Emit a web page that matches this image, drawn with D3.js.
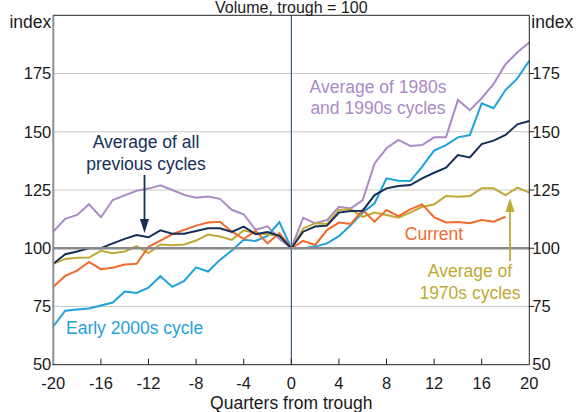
<!DOCTYPE html>
<html><head><meta charset="utf-8">
<script src="https://cdn.jsdelivr.net/npm/d3@7"></script>
<style>
body{margin:0;background:#fff;}
text{font-family:"Liberation Sans",Arial,sans-serif;}
</style></head>
<body><svg id="c" width="577" height="412"></svg>
<script>
const quarters = d3.range(-20, 21);
const xTicks = [-20,-16,-12,-8,-4,0,4,8,12,16,20];
const yTicks = [50,75,100,125,150,175];

const avg8090 = [107.2,112.6,114.3,118.9,113.3,120.7,122.7,124.7,125.6,127.0,125.0,122.9,121.7,122.2,121.2,116.5,114.6,107.9,109.4,104.0,100,
  113.0,110.7,112.1,117.8,117.1,120.7,136.4,142.9,146.5,143.9,144.3,147.6,147.6,163.6,159.3,164.4,170.5,179.0,184.1,188.3];
const avgAll = [93.3,97.4,98.6,100,100,102.1,104,105.7,104.7,107.7,106.2,106.2,107.4,108.6,108.6,107,109.3,106,107,105.3,100,
  107.1,109.3,109.7,115.3,116,116.1,122.8,125.7,126.7,127.1,130,132.4,134.6,140,139,144.7,146.2,148.6,153.2,154.6];
const current = [83.5,88.1,90.4,94.1,91,91.6,93,93.3,100.6,103.3,106,107.9,109.7,111,111.4,107.2,103.9,107.5,102.1,106.5,100,
  103.2,101.4,107.8,111,110.4,116.4,111.4,116.4,113.8,116.7,118.8,113.3,111.1,111.3,110.7,112.1,111.4,113.5,null,null];
const early2000s = [66.4,73.2,73.7,74.1,75.4,76.7,81.4,80.8,83.1,88,83.4,86,91.8,90,95,99,103.6,103.1,105.3,111.2,100,
  100,100.7,102.1,105.2,110,115.3,119.3,130,129,128.9,135,141.9,144.3,147.6,148.6,162.2,160.1,167.9,172.9,180.5];
const avg1970s = [93.3,95.4,95.9,96,98.9,97.9,98.6,100.9,97.9,101.6,101.3,101.6,103.3,105.9,105,103.6,107.7,106.4,106,105.3,100,
  108.5,110.7,110.4,116.4,116.7,113.5,115.3,114.3,113.1,115.3,117.8,118.8,122.4,122.1,122.4,125.7,125.7,122.8,126,123.9];

const series = [
  {name:"avg8090", values:avg8090, color:"#a98bc6"},
  {name:"early2000s", values:early2000s, color:"#1ea2dc"},
  {name:"avg1970s", values:avg1970s, color:"#bfa834"},
  {name:"current", values:current, color:"#f26a2e"},
  {name:"avgAll", values:avgAll, color:"#152f5a"}
];

const svg = d3.select("#c");
const L=53.3, R=529.3, T=15.3, B=364.7;
const x = d3.scaleLinear().domain([-20,20]).range([L,R]);
const y = d3.scaleLinear().domain([50,200]).range([B,T]);

// gridlines
svg.append("g").selectAll("line").data([75,125,150,175]).join("line")
  .attr("x1",L).attr("x2",R).attr("y1",d=>y(d)).attr("y2",d=>y(d))
  .attr("stroke","#c9c9c9").attr("stroke-width",1);

// zero vertical line
svg.append("line").attr("x1",x(0)).attr("x2",x(0)).attr("y1",T).attr("y2",B)
  .attr("stroke","#1f3a64").attr("stroke-width",1);

// x ticks (inside)
svg.append("g").selectAll("line").data(xTicks.slice(1,-1)).join("line")
  .attr("x1",d=>x(d)).attr("x2",d=>x(d)).attr("y1",B).attr("y2",B-6)
  .attr("stroke","#222").attr("stroke-width",1);

// right ticks (outside)
svg.append("g").selectAll("line").data([75,100,125,150,175]).join("line")
  .attr("x1",R).attr("x2",R+5).attr("y1",d=>y(d)).attr("y2",d=>y(d))
  .attr("stroke","#222").attr("stroke-width",1);

// lines
const line = d3.line().defined(d=>d.v!=null).x(d=>x(d.q)).y(d=>y(d.v));
series.forEach(s=>{
  svg.append("path").datum(quarters.map((q,i)=>({q,v:s.values[i]})))
    .attr("d",line).attr("fill","none").attr("stroke",s.color)
    .attr("stroke-width",2).attr("stroke-linejoin","miter");
});

// 100 line
svg.append("line").attr("x1",L).attr("x2",R).attr("y1",y(100)).attr("y2",y(100))
  .attr("stroke","#8a8a8a").attr("stroke-width",2.5);

// frame
svg.append("line").attr("x1",L).attr("x2",L).attr("y1",T).attr("y2",B).attr("stroke","#8f8f8f").attr("stroke-width",2);
svg.append("line").attr("x1",L).attr("x2",R).attr("y1",T).attr("y2",T).attr("stroke","#222").attr("stroke-width",1);
svg.append("line").attr("x1",R).attr("x2",R).attr("y1",T).attr("y2",B).attr("stroke","#222").attr("stroke-width",1);
svg.append("line").attr("x1",L-1).attr("x2",R).attr("y1",B).attr("y2",B).attr("stroke","#222").attr("stroke-width",1);

// tick labels
const fs = 16.5, fa = 17.5;
svg.append("g").selectAll("text").data(yTicks).join("text")
  .attr("x",L-2).attr("y",d=>y(d)).attr("dy","0.35em").attr("text-anchor","end")
  .attr("font-size",fs).attr("fill","#1a1a1a").text(d=>d);
svg.append("g").selectAll("text").data(yTicks).join("text")
  .attr("x",R+3).attr("y",d=>y(d)).attr("dy","0.35em").attr("text-anchor","start")
  .attr("font-size",fs).attr("fill","#1a1a1a").text(d=>d);
svg.append("g").selectAll("text").data(xTicks).join("text")
  .attr("x",d=>x(d)).attr("y",B+19).attr("dy","0.35em").attr("text-anchor","middle")
  .attr("font-size",fs).attr("fill","#1a1a1a").text(d=>d);

svg.append("text").attr("x",L-2).attr("y",28).attr("text-anchor","end").attr("font-size",fa).attr("fill","#1a1a1a").text("index");
svg.append("text").attr("x",R+2).attr("y",28).attr("text-anchor","start").attr("font-size",fa).attr("fill","#1a1a1a").text("index");
svg.append("text").attr("x",x(0)).attr("y",12.5).attr("text-anchor","middle").attr("font-size",16).attr("fill","#1a1a1a").text("Volume, trough = 100");
svg.append("text").attr("x",x(0)).attr("y",409).attr("text-anchor","middle").attr("font-size",fa).attr("fill","#1a1a1a").text("Quarters from trough");

// annotations
function multi(lines, cx, y0, dy, color, anchor){
  const t = svg.append("text").attr("font-size",fa).attr("fill",color).attr("text-anchor",anchor||"middle");
  lines.forEach((l,i)=>t.append("tspan").attr("x",cx).attr("y",y0+i*dy).text(l));
}
multi(["Average of 1980s","and 1990s cycles"], 378, 92.5, 21.5, "#a98bc6");
multi(["Average of all","previous cycles"], 146, 148, 21.5, "#152f5a");
multi(["Current"], 434, 239.5, 0, "#f26a2e");
multi(["Average of","1970s cycles"], 470, 277, 21.5, "#bfa834");
multi(["Early 2000s cycle"], 66, 334, 0, "#1ea2dc", "start");

// arrows
function arrow(x0,y0,x1,y1,color){
  svg.append("line").attr("x1",x0).attr("x2",x1).attr("y1",y0).attr("y2",y1-(y1>y0?8:-8))
    .attr("stroke",color).attr("stroke-width",1.8);
  const dir = y1>y0?1:-1;
  svg.append("path").attr("d",`M${x1},${y1} L${x1-4.5},${y1-dir*14} L${x1+4.5},${y1-dir*14} Z`).attr("fill",color);
}
arrow(144.5,175,144.5,233,"#152f5a");
arrow(510,261,510,198,"#bfa834");
</script></body></html>
